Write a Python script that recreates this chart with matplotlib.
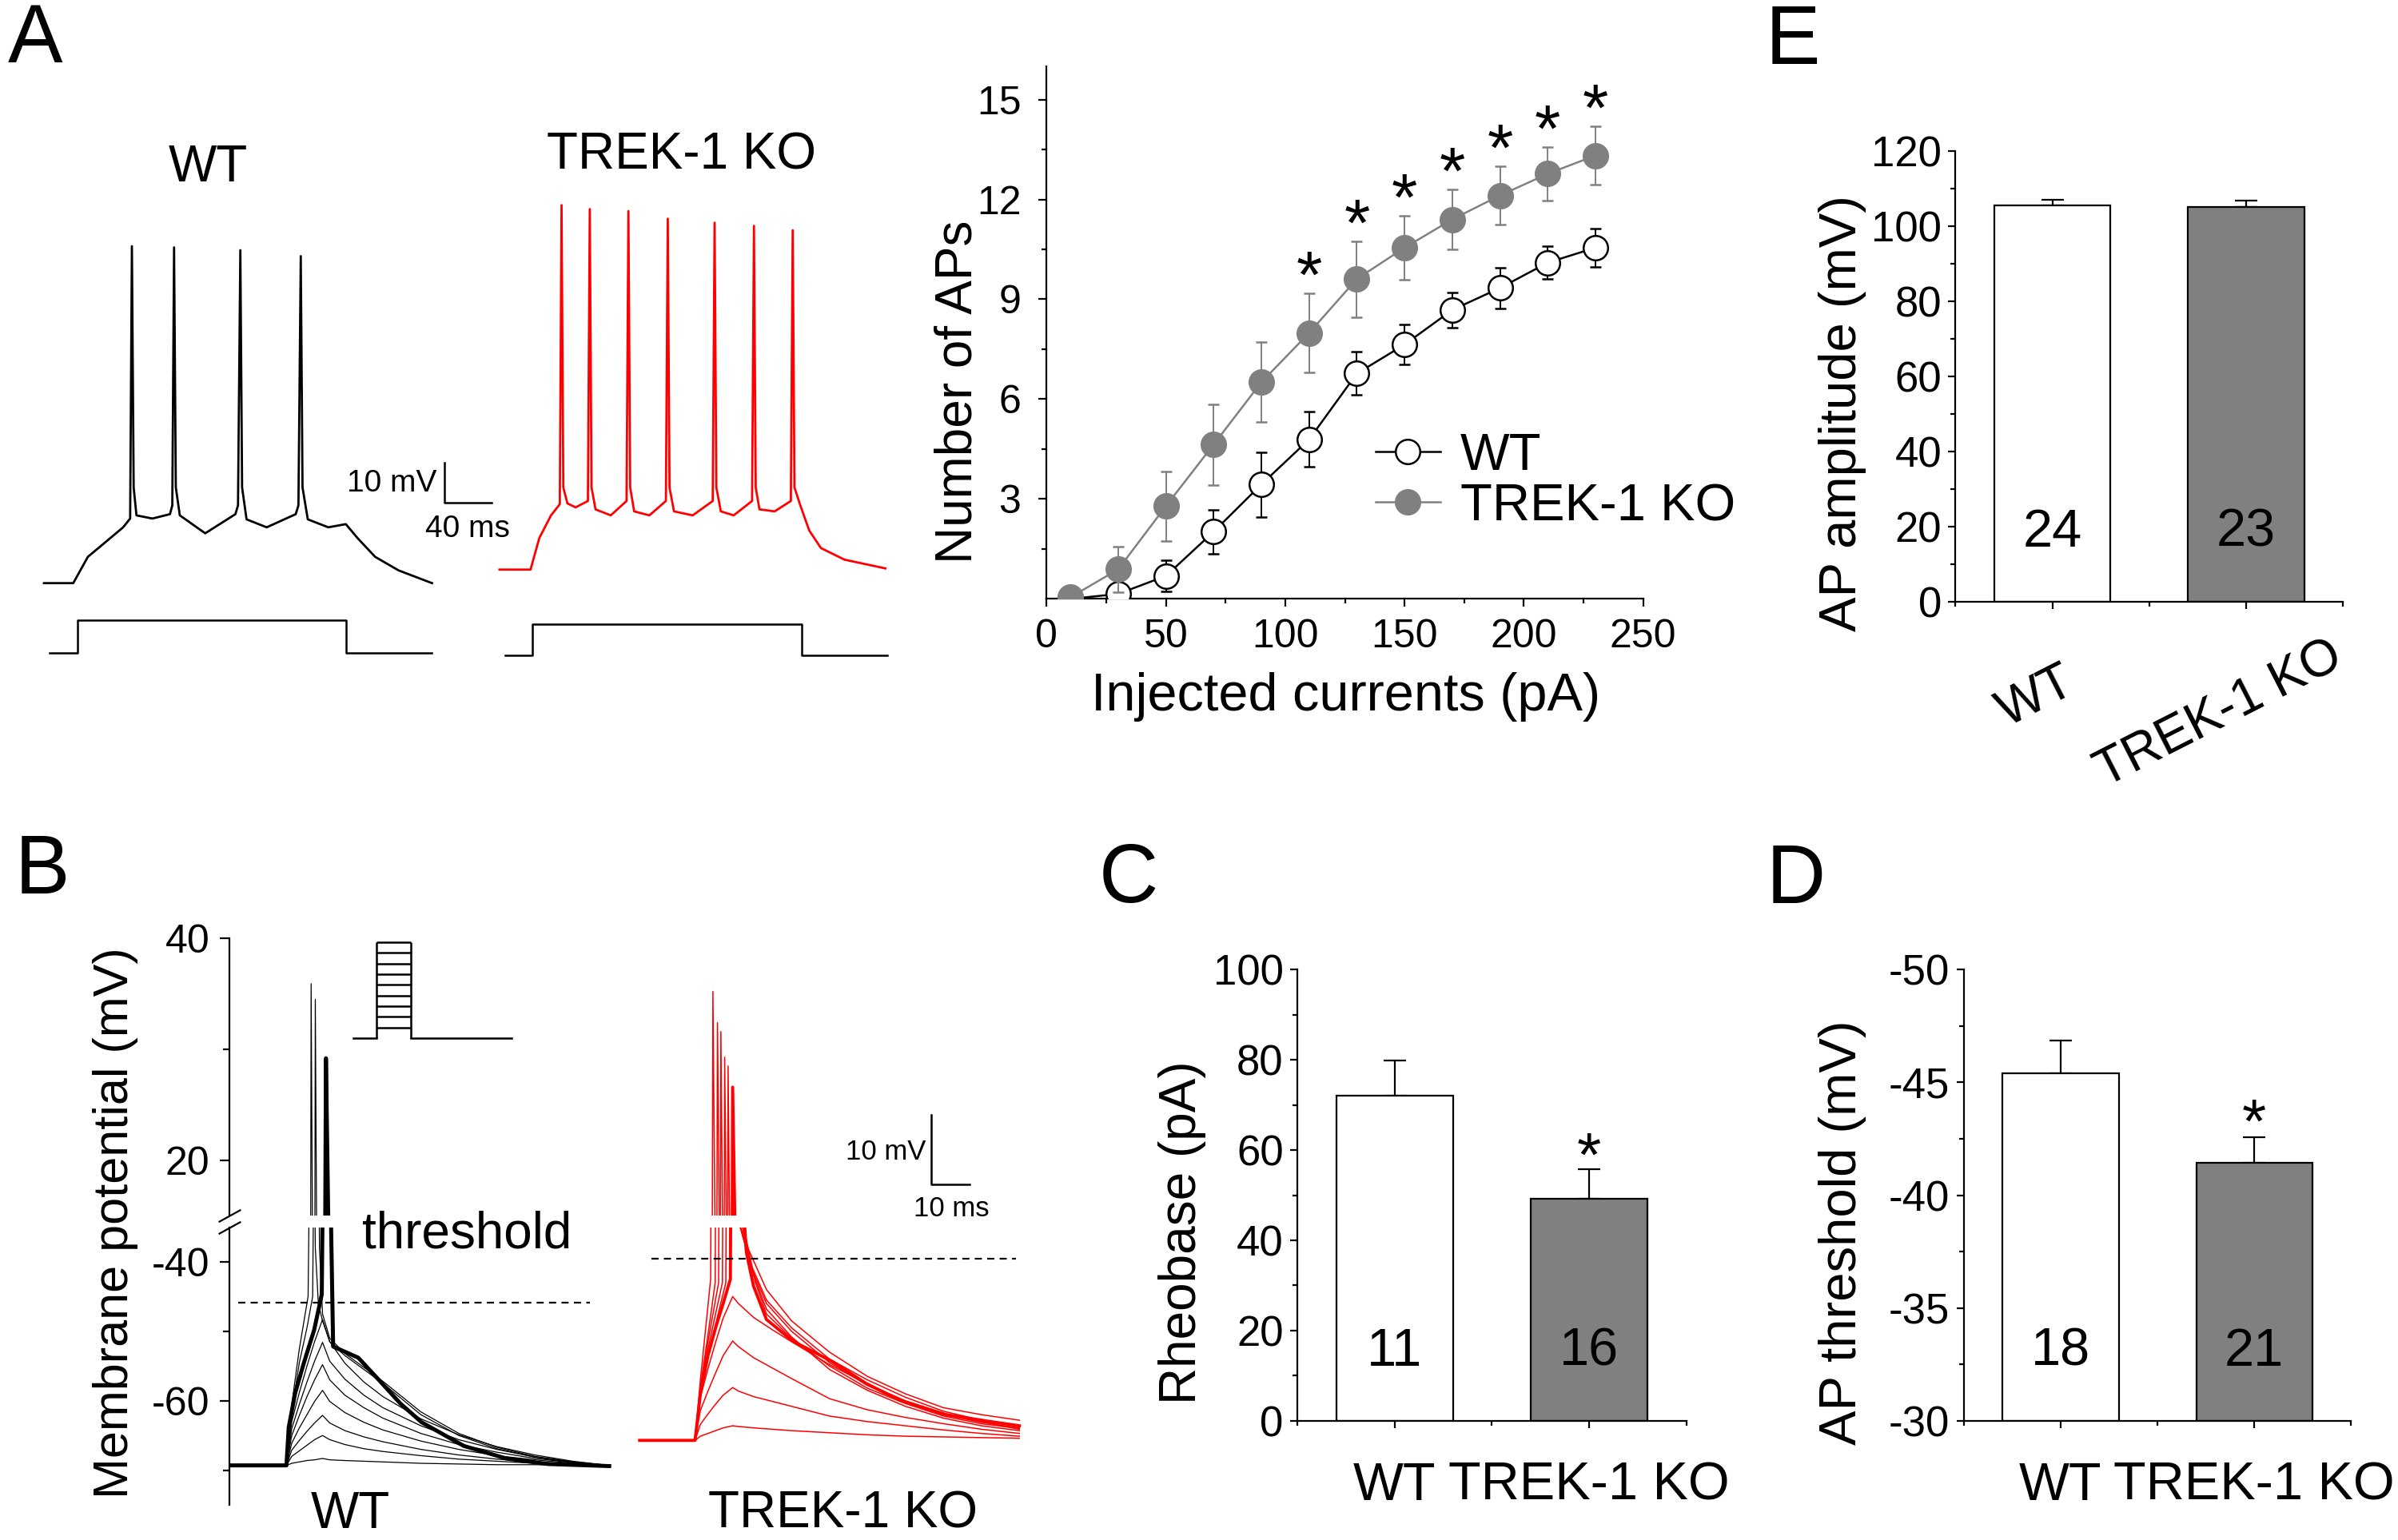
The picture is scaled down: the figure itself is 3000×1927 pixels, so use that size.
"""TREK-1 KO excitability figure (panels A-E) redrawn with matplotlib."""

import matplotlib
matplotlib.use("Agg")
import matplotlib.pyplot as plt
from matplotlib.lines import Line2D
from matplotlib.ticker import FixedLocator, MultipleLocator
from matplotlib.transforms import blended_transform_factory

plt.rcParams["font.family"] = ["Liberation Sans", "DejaVu Sans"]
plt.rcParams["axes.unicode_minus"] = False

W, H, DPI = 3000, 1927, 200
GREY = "#808080"
RED = "#ff0000"
GROUPS = ["WT", "TREK-1 KO"]

# ---------------- panel A: example spike trains (ms, mV) ----------------
A_WT_T = [0, 25.0, 37.5, 52.6, 67.6, 73.6, 75.1, 76.6, 79.0, 92.6, 107.6, 109.6,
          111.1, 112.6, 116.0, 137.7, 163.5, 165.7, 167.7, 169.2, 173.0, 190.2,
          215.0, 217.3, 219.3, 220.8, 225.3, 242.8, 257.8, 267.8, 282.8, 302.8, 331.4]
A_WT_V = [-70.0, -70.0, -63.4, -59.7, -56.0, -53.8, 14.5, -46.0, -53.0, -53.8, -52.7, -50.5,
          14.2, -46.0, -53.0, -57.5, -52.7, -50.5, 13.5, -46.0, -54.0, -56.0,
          -52.7, -50.5, 12.0, -46.0, -54.0, -56.0, -55.2, -58.7, -63.4, -66.8, -70.0]
A_KO_T = [0, 26.5, 34.0, 44.0, 51.5, 53.0, 54.5, 58.0, 65.0, 75.5, 77.1, 78.6, 82.0,
          95.0, 108.5, 110.1, 111.6, 115.0, 128.0, 142.1, 143.7, 145.2, 149.0, 165.0,
          182.1, 183.7, 185.2, 189.0, 200.0, 215.7, 217.3, 218.8, 222.0, 235.0, 248.8,
          250.4, 251.9, 256.9, 264.5, 274.5, 294.5, 329.5]
A_KO_V = [-66.6, -66.6, -58.7, -53.0, -50.2, 24.8, -46.0, -50.0, -51.0, -49.4, 23.8, -46.0, -51.5,
          -53.0, -49.4, 23.3, -46.0, -52.0, -53.0, -49.4, 21.4, -46.0, -52.0, -53.0,
          -49.4, 20.4, -46.0, -52.0, -53.0, -49.4, 19.6, -46.0, -51.5, -52.0, -49.4,
          18.5, -46.0, -50.5, -56.8, -61.2, -64.1, -66.3]
A_STEP_WT_T = [5.0, 29.0, 29.0, 257.8, 257.8, 331.4]
A_STEP_WT_V = [-87.4, -87.4, -79.3, -79.3, -87.4, -87.4]
A_STEP_KO_T = [5.0, 28.4, 28.4, 258.3, 258.3, 330.9]
A_STEP_KO_V = [-88.1, -88.1, -80.3, -80.3, -88.1, -88.1]

# ---------------- panel A: number of APs vs injected current ----------------
CURRENTS = [10, 30, 50, 70, 90, 110, 130, 150, 170, 190, 210, 230]
APS_WT = [0.0, 0.15, 0.69, 2.02, 3.44, 4.79, 6.77, 7.64, 8.68, 9.34, 10.10, 10.55]
APS_WT_SEM = [0.0, 0.15, 0.46, 0.66, 0.97, 0.83, 0.65, 0.60, 0.53, 0.61, 0.49, 0.58]
APS_KO = [0.05, 0.89, 2.79, 4.64, 6.51, 7.99, 9.61, 10.55, 11.40, 12.12, 12.77, 13.32]
APS_KO_SEM = [0.0, 0.69, 1.04, 1.21, 1.20, 1.19, 1.14, 0.96, 0.91, 0.88, 0.81, 0.87]
APS_SIGNIFICANT = [110, 130, 150, 170, 190, 210, 230]

# ---------------- panels C, D, E: group means ----------------
RHEOBASE = [72.15, 49.25]
RHEOBASE_SEM = [7.75, 6.55]
RHEOBASE_N = [11, 16]
THRESHOLD = [-45.42, -41.44]
THRESHOLD_SEM = [1.44, 1.12]
THRESHOLD_N = [18, 21]
AMPLITUDE = [105.56, 105.02]
AMPLITUDE_SEM = [1.41, 1.74]
AMPLITUDE_N = [24, 23]

# ---------------- panel B: rheobase traces (ms, mV) ----------------
B_WT_SUB_T = [0, 14.6, 16, 18, 20, 22, 24.1, 26, 30, 35, 40, 50, 60, 70, 80, 90, 99.6]
B_WT_SUB = [
    [-69.3, -69.3, -69.0, -68.8, -68.6, -68.5, -68.3, -68.5, -68.6, -68.7, -68.8, -69.0, -69.1, -69.2, -69.2, -69.3, -69.3],
    [-69.3, -69.3, -68.0, -67.2, -66.4, -65.6, -65.0, -65.6, -66.3, -66.9, -67.3, -67.9, -68.4, -68.7, -69.0, -69.2, -69.3],
    [-69.3, -69.3, -67.1, -65.7, -64.4, -63.2, -62.1, -63.2, -64.3, -65.2, -65.9, -67.0, -67.8, -68.4, -68.8, -69.1, -69.3],
    [-69.3, -69.3, -66.1, -63.9, -62.0, -60.1, -58.5, -60.1, -61.7, -63.1, -64.2, -65.8, -67.0, -67.9, -68.5, -69.0, -69.3],
    [-69.3, -69.3, -65.0, -62.1, -59.4, -57.0, -54.8, -57.0, -59.2, -61.0, -62.5, -64.7, -66.3, -67.4, -68.3, -68.9, -69.3],
    [-69.3, -69.3, -64.0, -60.5, -57.3, -54.3, -51.6, -54.3, -56.9, -59.2, -61.0, -63.6, -65.6, -67.0, -68.1, -68.8, -69.3],
    [-69.3, -69.3, -63.0, -58.8, -55.0, -51.5, -48.3, -51.5, -54.6, -57.3, -59.4, -62.6, -64.9, -66.6, -67.8, -68.7, -69.3],
]
B_WT_SPIKE_T = [
    [0, 14.6, 16, 18, 20.3, 20.8, 21.1, 21.5, 22.2, 23, 24.1, 26, 30, 35, 40, 50, 60, 70, 80, 90, 99.6],
    [0, 14.6, 16, 18, 20, 21.5, 21.9, 22.2, 22.6, 23.3, 24.1, 26, 30, 35, 40, 50, 60, 70, 80, 90, 99.6],
]
B_WT_SPIKE_V = [
    [-69.3, -69.3, -60.5, -52.5, -45.0, -20, 35.9, 10, -38, -46, -48.5, -51.5, -53.5, -55.5, -57.5, -62.0, -65.0, -66.9, -68.1, -68.9, -69.3],
    [-69.3, -69.3, -61.5, -54.5, -49.5, -45.0, -20, 34.5, 10, -38, -47.5, -51.0, -53.2, -55.2, -57.2, -61.6, -64.7, -66.7, -68.0, -68.8, -69.3],
]
B_WT_RHEO_T = [0, 14.6, 15.2, 16.9, 19.1, 21.9, 23.9, 24.5, 25.0, 25.6, 26.2, 26.9, 30.2,
               33.5, 39.1, 44.6, 50.2, 61.3, 72.4, 83.5, 99.6]
B_WT_RHEO_V = [-69.3, -69.3, -63.8, -58.9, -54.7, -49.8, -44.7, -10, 29.2, 15, -30, -52.2, -53.0,
               -53.8, -57.1, -60.4, -63.1, -66.5, -68.3, -69.1, -69.4]

B_KO_SUB_T = [0, 14.6, 16, 18, 20, 22, 24.5, 26, 30, 35, 40, 50, 60, 70, 80, 90, 100]
B_KO_SUB = [
    [-65.7, -65.7, -65.1, -64.7, -64.3, -63.9, -63.6, -63.7, -63.9, -64.1, -64.3, -64.6, -64.9, -65.1, -65.2, -65.3, -65.4],
    [-65.7, -65.7, -63.4, -61.9, -60.5, -59.2, -58.1, -58.6, -59.4, -60.1, -60.8, -62.2, -63.0, -63.6, -64.2, -64.7, -65.1],
    [-65.7, -65.7, -61.4, -58.6, -56.0, -53.5, -51.4, -52.2, -53.8, -55.3, -56.8, -59.7, -61.3, -62.4, -63.3, -64.1, -64.7],
    [-65.7, -65.7, -59.5, -55.4, -51.6, -48.1, -45.0, -46.0, -48.0, -49.8, -51.5, -54.8, -57.6, -60.0, -61.8, -63.0, -64.1],
]
B_KO_SPIKE_T = [
    [0, 14.6, 16, 17.5, 18.7, 19.3, 19.9, 21.5, 24.5, 28.5, 33.4, 40, 50, 60, 70, 80, 90, 100],
    [0, 14.6, 16, 18, 19.9, 20.5, 21.1, 22.7, 25.5, 29, 33.4, 40, 50, 60, 70, 80, 90, 100],
    [0, 14.6, 16, 18, 20.8, 21.4, 22.0, 23.6, 26.0, 29.5, 33.4, 40, 50, 60, 70, 80, 90, 100],
    [0, 14.6, 16, 18, 21.8, 22.4, 23.0, 24.6, 27, 30, 33.4, 40, 50, 60, 70, 80, 90, 100],
    [0, 14.6, 16, 18, 22.7, 23.3, 23.9, 25.5, 27.8, 30.5, 33.4, 40, 50, 60, 70, 80, 90, 100],
]
B_KO_SPIKE_V = [
    [-65.7, -65.7, -57, -49, -42.5, 35.2, 12, -22, -32, -38, -44.0, -48.5, -53.0, -56.5, -59.0, -61.0, -62.0, -62.8],
    [-65.7, -65.7, -58, -50.5, -43, 32.4, 10, -22, -33, -40, -45.5, -49.5, -54.0, -57.0, -59.5, -61.5, -62.8, -63.7],
    [-65.7, -65.7, -58.5, -51.5, -43, 31.6, 8, -22, -34, -41, -46, -50, -54.5, -57.8, -60.2, -62, -63.1, -63.9],
    [-65.7, -65.7, -59, -52.5, -43, 29.3, 8, -22, -35, -42, -46.8, -50.8, -55.5, -58.5, -60.8, -62.5, -63.6, -64.3],
    [-65.7, -65.7, -59.5, -53.5, -43, 28.5, 6, -22, -36, -43, -47.5, -51, -55, -58.2, -60.4, -62.2, -63.3, -64.0],
]
B_KO_RHEO_T = [0, 14.6, 16, 18, 20, 22, 23.9, 24.5, 25.3, 26.5, 28.1, 30, 33.4, 40.3, 50.9,
               59.6, 68.4, 80.7, 91.2, 100]
B_KO_RHEO_V = [-65.7, -65.7, -59.0, -53.5, -49.5, -46.0, -42.5, 26.6, 10, -25, -38.6, -43.5, -48.3,
               -51.4, -54.4, -57.5, -59.9, -62.0, -62.9, -63.6]
B_THRESHOLD_WT = -45.9
B_THRESHOLD_KO = -39.5
PROTOCOL_T = [0, 6.5, 16.5, 45]
PROTOCOL_LEVELS = [1, 2, 3, 4, 5, 6, 7, 8, 9]


def px_rect(x0, y0, x1, y1):
    return [x0 / W, 1 - y1 / H, (x1 - x0) / W, (y1 - y0) / H]


def ptext(fig, x, y, s, **kw):
    kw.setdefault("ha", "center")
    kw.setdefault("va", "center")
    fig.text(x / W, 1 - y / H, s, **kw)


def draw_a_traces(fig):
    ax = fig.add_axes(px_rect(0, 100, 1150, 900))
    ax.axis("off")
    ax.set_xlim(-37.54, 747.44)
    ax.set_ylim(-104.13, 56.19)
    ko_shift = 389.0
    ax.plot(A_WT_T, A_WT_V, color="black", lw=1.0)
    ax.plot([t + ko_shift for t in A_KO_T], A_KO_V, color=RED, lw=1.0)
    ax.plot(A_STEP_WT_T, A_STEP_WT_V, color="black", lw=0.9)
    ax.plot([t + ko_shift for t in A_STEP_KO_T], A_STEP_KO_V, color="black", lw=0.9)
    # scale bar 10 mV / 40 ms
    ax.plot([342, 342, 382], [-39.9, -49.9, -49.9], color="black", lw=0.9)
    ax.text(335.4, -45.0, "10 mV", ha="right", va="center", fontsize=14)
    ax.text(361.4, -56.5, "40 ms", ha="center", va="center", fontsize=14)
    ptext(fig, 260, 210, "WT", fontsize=23)
    ptext(fig, 853, 194, "TREK-1 KO", fontsize=23)


def draw_ap_counts(fig):
    ax = fig.add_axes(px_rect(1309.4, 82.9, 2055.7, 749.4))
    ax.errorbar(CURRENTS, APS_WT, yerr=APS_WT_SEM, color="black", lw=0.9,
                marker="o", ms=11, mfc="white", mec="black", mew=0.9,
                elinewidth=0.7, capsize=2.5, capthick=0.7, zorder=3)
    ax.errorbar(CURRENTS, APS_KO, yerr=APS_KO_SEM, color=GREY, lw=0.9,
                marker="o", ms=11, mfc=GREY, mec=GREY, mew=0.9,
                elinewidth=0.7, capsize=2.5, capthick=0.7, zorder=4)
    for x, m, e in zip(CURRENTS, APS_KO, APS_KO_SEM):
        if x in APS_SIGNIFICANT:
            ax.annotate("*", (x, m + e), xytext=(0, -2), textcoords="offset points",
                        ha="center", va="baseline", fontsize=30)
    ax.set_xlim(0, 250)
    ax.set_ylim(0, 16)
    ax.set_xticks([0, 50, 100, 150, 200, 250])
    ax.set_yticks([3, 6, 9, 12, 15])
    ax.xaxis.set_minor_locator(MultipleLocator(25))
    ax.yaxis.set_minor_locator(FixedLocator([1.5, 4.5, 7.5, 10.5, 13.5]))
    for side in ("top", "right"):
        ax.spines[side].set_visible(False)
    for side in ("left", "bottom"):
        ax.spines[side].set_linewidth(0.8)
    ax.tick_params(which="both", direction="out", width=0.8, labelsize=18)
    ax.tick_params(which="major", length=3.5)
    ax.tick_params(which="minor", length=2.2)
    ax.tick_params(axis="y", pad=8)
    ax.tick_params(axis="x", pad=5.5)
    handles = [
        Line2D([], [], color="black", lw=0.9, marker="o", ms=11, mfc="white", mec="black", mew=0.9),
        Line2D([], [], color=GREY, lw=0.9, marker="o", ms=11, mfc=GREY, mec=GREY, mew=0.9),
    ]
    ax.legend(handles, GROUPS, loc="upper left", bbox_to_anchor=(0.551, 0.313),
              frameon=False, fontsize=23.5, handlelength=1.25, handletextpad=0.38,
              labelspacing=0.05, borderpad=0, borderaxespad=0)
    ptext(fig, 1199, 490, "Number of APs", rotation=90, fontsize=23)
    ptext(fig, 1684, 872, "Injected currents (pA)", fontsize=24)


def draw_bars(fig, rect, values, sems, ns, ylim, major, minor, base, star_offset=None,
              ticklabels=True):
    ax = fig.add_axes(px_rect(*rect))
    heights = [v - base for v in values]
    inverted = ylim[1] < ylim[0]
    if inverted:
        yerr = [sems, [0] * len(sems)]
        tops = [v - e for v, e in zip(values, sems)]
    else:
        yerr = [[0] * len(sems), sems]
        tops = [v + e for v, e in zip(values, sems)]
    x = [1, 2]
    ax.errorbar(x, values, yerr=yerr, fmt="none", ecolor="black", elinewidth=0.8,
                capsize=5, capthick=0.8, zorder=1)
    ax.bar(x, heights, bottom=base, width=0.6, color=["white", GREY],
           edgecolor="black", linewidth=0.8, zorder=2)
    tr = blended_transform_factory(ax.transData, ax.transAxes)
    for xi, n in zip(x, ns):
        ax.text(xi, 0.152, str(n), transform=tr, ha="center", va="center", fontsize=24, zorder=3)
    if star_offset is not None:
        ax.annotate("*", (2, tops[1]), xytext=(0, star_offset), textcoords="offset points",
                    ha="center", va="baseline", fontsize=28)
    ax.set_xlim(0.5, 2.5)
    ax.set_ylim(*ylim)
    ax.set_xticks(x)
    ax.set_xticklabels(GROUPS if ticklabels else ["", ""])
    ax.xaxis.set_minor_locator(FixedLocator([0.5, 1.5, 2.5]))
    ax.yaxis.set_major_locator(MultipleLocator(major))
    ax.yaxis.set_minor_locator(MultipleLocator(minor))
    for side in ("top", "right"):
        ax.spines[side].set_visible(False)
    for side in ("left", "bottom"):
        ax.spines[side].set_linewidth(0.8)
    ax.tick_params(which="both", direction="out", width=0.8)
    ax.tick_params(which="major", length=3.3)
    ax.tick_params(which="minor", length=2.2)
    ax.tick_params(axis="y", labelsize=19, pad=3)
    ax.tick_params(axis="x", labelsize=24, pad=15)
    return ax


def draw_b_traces(fig):
    ax_up = fig.add_axes(px_rect(287.4, 1173.8, 1290, 1521))
    ax_lo = fig.add_axes(px_rect(287.4, 1536, 1290, 1883.2))
    ko_shift = 107.6
    for ax in (ax_up, ax_lo):
        ax.set_xlim(-0.337, 210.7)
        for side in ("top", "right", "bottom"):
            ax.spines[side].set_visible(False)
        ax.spines["left"].set_linewidth(0.8)
        ax.set_xticks([])
        ax.tick_params(which="both", direction="out", width=0.8, labelsize=18, pad=4.5)
        ax.tick_params(which="major", length=4.5)
        ax.tick_params(which="minor", length=3)
        ax.patch.set_alpha(0)
        for trace in B_WT_SUB:
            ax.plot(B_WT_SUB_T, trace, color="black", lw=0.45)
        for ts, vs in zip(B_WT_SPIKE_T, B_WT_SPIKE_V):
            ax.plot(ts, vs, color="black", lw=0.45)
        ax.plot(B_WT_RHEO_T, B_WT_RHEO_V, color="black", lw=1.8)
        for trace in B_KO_SUB:
            ax.plot([t + ko_shift for t in B_KO_SUB_T], trace, color=RED, lw=0.55)
        for ts, vs in zip(B_KO_SPIKE_T, B_KO_SPIKE_V):
            ax.plot([t + ko_shift for t in ts], vs, color=RED, lw=0.55)
        ax.plot([t + ko_shift for t in B_KO_RHEO_T], B_KO_RHEO_V, color=RED, lw=1.4)
    ax_up.set_ylim(15.07, 40)
    ax_up.set_yticks([20, 40])
    ax_up.yaxis.set_minor_locator(FixedLocator([30]))
    ax_lo.set_ylim(-75, -35.07)
    ax_lo.set_yticks([-60, -40])
    ax_lo.yaxis.set_minor_locator(FixedLocator([-70, -50]))
    # axis break marks
    kw = dict(marker=[(-1, -0.55), (1, 0.55)], markersize=10, linestyle="none",
              color="black", mec="black", mew=0.8, clip_on=False)
    ax_up.plot([0], [0], transform=ax_up.transAxes, **kw)
    ax_lo.plot([0], [1], transform=ax_lo.transAxes, **kw)
    # threshold lines
    ax_lo.plot([1.9, 94.6], [B_THRESHOLD_WT] * 2, color="black", lw=0.8, dashes=(4, 3))
    ax_lo.plot([3.2 + ko_shift, 99.1 + ko_shift], [B_THRESHOLD_KO] * 2, color="black",
               lw=0.8, dashes=(4, 3))
    # scale bar 10 mV / 10 ms
    ax_lo.plot([184.4, 184.4, 194.4], [-18.9, -28.9, -28.9], color="black", lw=0.9,
               clip_on=False)
    ax_lo.text(183.0, -24.2, "10 mV", ha="right", va="center", fontsize=12.5)
    ax_lo.text(189.7, -32.4, "10 ms", ha="center", va="center", fontsize=12.5)
    # stimulus protocol inset
    ax_p = fig.add_axes(px_rect(442, 1179.1, 639.7, 1298.8))
    ax_p.axis("off")
    ax_p.set_xlim(PROTOCOL_T[0], PROTOCOL_T[-1])
    ax_p.set_ylim(0, PROTOCOL_LEVELS[-1])
    line_kw = dict(color="black", lw=0.9, clip_on=False)
    ax_p.plot(PROTOCOL_T[:2], [0, 0], **line_kw)
    ax_p.plot(PROTOCOL_T[2:], [0, 0], **line_kw)
    ax_p.vlines(PROTOCOL_T[1:3], 0, PROTOCOL_LEVELS[-1], **line_kw)
    ax_p.hlines(PROTOCOL_LEVELS, PROTOCOL_T[1], PROTOCOL_T[2], **line_kw)

    ptext(fig, 584, 1545, "threshold", fontsize=23)
    ptext(fig, 145, 1530, "Membrane potential (mV)", rotation=90, fontsize=22)
    ptext(fig, 438, 1865, "WT", va="top", fontsize=23)
    ptext(fig, 1054, 1865, "TREK-1 KO", va="top", fontsize=23)


def main():
    fig = plt.figure(figsize=(W / DPI, H / DPI), dpi=DPI)

    draw_a_traces(fig)
    draw_ap_counts(fig)

    # E: AP amplitude
    draw_bars(fig, (2446.4, 188.8, 2931.1, 752.6), AMPLITUDE, AMPLITUDE_SEM, AMPLITUDE_N,
              (0, 120), 20, 10, 0, ticklabels=False)
    ptext(fig, 2547, 872, "WT", rotation=27, fontsize=23)
    ptext(fig, 2776, 894, "TREK-1 KO", rotation=27, fontsize=23)
    ptext(fig, 2305, 517, "AP amplitude (mV)", rotation=90, fontsize=23.5)

    # C: rheobase
    draw_bars(fig, (1623.2, 1213.4, 2109.5, 1777.7), RHEOBASE, RHEOBASE_SEM, RHEOBASE_N,
              (0, 100), 20, 10, 0, star_offset=-3.3)
    ptext(fig, 1479, 1542, "Rheobase (pA)", rotation=90, fontsize=23)

    # D: AP threshold (inverted axis)
    draw_bars(fig, (2456.7, 1213.4, 2941.4, 1777.7), THRESHOLD, THRESHOLD_SEM, THRESHOLD_N,
              (-30, -50), 5, 2.5, -30, star_offset=-2.2)
    ptext(fig, 2305, 1542, "AP threshold (mV)", rotation=90, fontsize=23.5)

    draw_b_traces(fig)

    for letter, x, y in [("A", 44, 51), ("B", 53, 1092), ("C", 1412, 1102),
                         ("D", 2247, 1104), ("E", 2243, 54)]:
        ptext(fig, x, y, letter, fontsize=37)

    fig.savefig("out.png", dpi=DPI)


if __name__ == "__main__":
    main()
